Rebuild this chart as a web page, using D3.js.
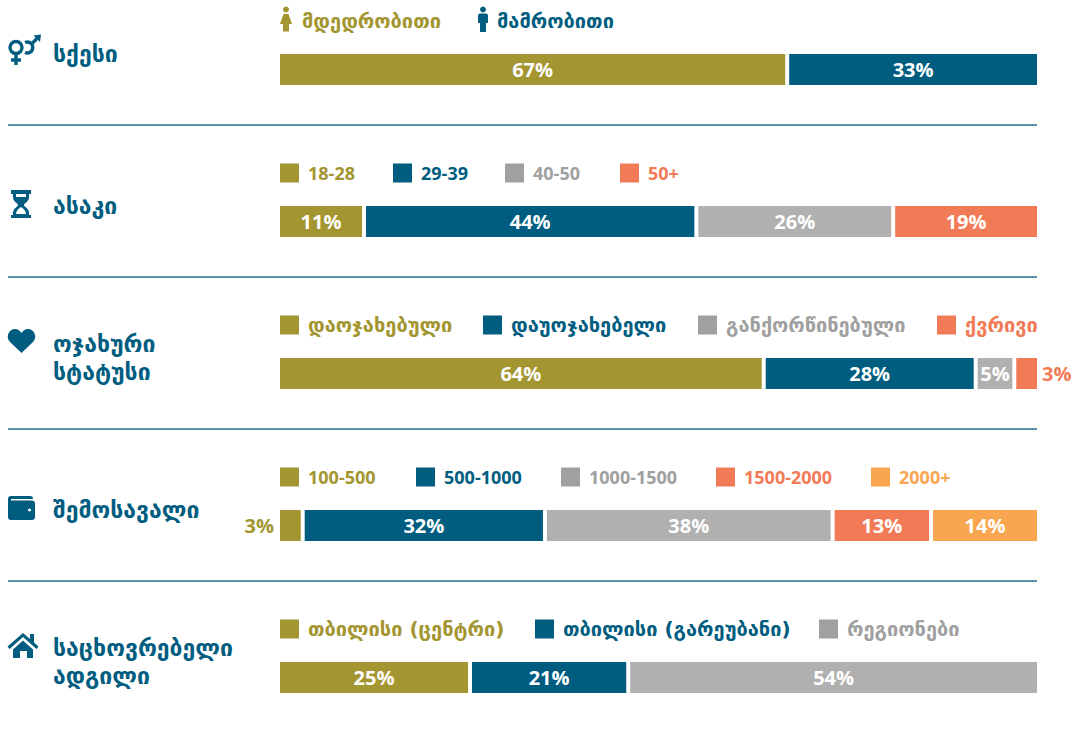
<!DOCTYPE html>
<html>
<head>
<meta charset="utf-8">
<script src="https://cdn.jsdelivr.net/npm/d3@7"></script>
<style>
  html, body { margin: 0; background: #fff; }
  text { font-family: "DejaVu Sans", "Noto Sans", sans-serif; font-weight: 700; }
  .num { font-family: "Open Sans", "Noto Sans", sans-serif; }
</style>
</head>
<body>
<svg id="chart"></svg>
<script>
// values
const titles = [["სქესი"], ["ასაკი"], ["ოჯახური", "სტატუსი"], ["შემოსავალი"], ["საცხოვრებელი", "ადგილი"]];
const genderLabels = ["მდედრობითი", "მამრობითი"];
const genderValues = [67, 33];
const ageLabels = ["18-28", "29-39", "40-50", "50+"];
const ageValues = [11.1, 43.9, 26, 19];
const maritalLabels = ["დაოჯახებული", "დაუოჯახებელი", "განქორწინებული", "ქვრივი"];
const maritalValues = [63.9, 28, 5.1, 3];
const incomeLabels = ["100-500", "500-1000", "1000-1500", "1500-2000", "2000+"];
const incomeValues = [3, 32, 38, 13, 14];
const homeLabels = ["თბილისი (ცენტრი)", "თბილისი (გარეუბანი)", "რეგიონები"];
const homeValues = [25.1, 20.9, 54];

const sectionLabels = [genderLabels, ageLabels, maritalLabels, incomeLabels, homeLabels];
const sectionValues = [genderValues, ageValues, maritalValues, incomeValues, homeValues];
const iconNames = ["gender", "hourglass", "heart", "wallet", "house"];

// legend x offsets, one list per section
const legendX = [[280, 478], [280, 393, 505, 620], [280, 483, 698, 937], [280, 416, 561, 716, 871], [280, 535, 819]];

const colors = ["#a39530", "#005d7f", "#b0b0b0", "#f27b57", "#f8a650"];
const legendColors = ["#a39530", "#005d7f", "#a0a0a0", "#f27b57", "#f8a650"];
const navy = "#005d7f";

const width = 1083, height = 732;
const barH = 31, gap = 2;

const svg = d3.select("#chart").attr("width", width).attr("height", height)
    .style("display", "block");

const x = d3.scaleLinear([0, 100], [280, 1037]);
const y = d3.scalePoint(d3.range(5), [54, 662]);

const section = svg.selectAll("g.section")
    .data(titles)
    .join("g")
    .attr("class", "section")
    .attr("transform", (d, i) => `translate(0, ${y(i)})`);

// rules between the sections
svg.selectAll("line.rule")
    .data(d3.range(4))
    .join("line")
    .attr("class", "rule")
    .attr("x1", 8).attr("x2", 1037)
    .attr("y1", d => y(d) + 71).attr("y2", d => y(d) + 71)
    .attr("stroke", "#1f6f8f").attr("stroke-width", 1.4);

// left titles
section.each(function(lines) {
    const n = lines.length;
    d3.select(this).selectAll("text.title")
        .data(lines)
        .join("text")
        .attr("class", "title")
        .attr("x", 53)
        .attr("y", (d, i) => (i - (n - 1) / 2) * 28)
        .attr("dy", "0.36em")
        .attr("fill", navy)
        .attr("font-size", 23)
        .text(d => d);
});

// bars
section.each(function(lines, s) {
    const vals = sectionValues[s];
    const ends = Array.from(d3.cumsum(vals));
    const g = d3.select(this);
    const segs = vals.map((v, i) => ({
        v, i,
        x0: x(i ? ends[i - 1] : 0) + (i ? gap : 0),
        x1: x(ends[i]) - (i < vals.length - 1 ? gap : 0)
    }));
    g.selectAll("rect.seg")
        .data(segs)
        .join("rect")
        .attr("class", "seg")
        .attr("x", d => d.x0)
        .attr("width", d => d.x1 - d.x0)
        .attr("y", 0)
        .attr("height", barH)
        .attr("fill", d => colors[d.i]);
    g.selectAll("text.val")
        .data(segs)
        .join("text")
        .attr("class", "val num")
        .attr("y", barH / 2 + 0.3)
        .attr("dy", "0.36em")
        .attr("font-size", 20)
        .attr("x", d => d.v > 3 ? (d.x0 + d.x1) / 2 : (d.i === 0 ? d.x0 - 6 : d.x1 + 5))
        .attr("text-anchor", d => d.v > 3 ? "middle" : (d.i === 0 ? "end" : "start"))
        .attr("fill", d => d.v > 3 ? "#fff" : colors[d.i])
        .text(d => Math.round(d.v) + "%");

    // legend
    const items = g.selectAll("g.item")
        .data(sectionLabels[s])
        .join("g")
        .attr("class", "item")
        .attr("transform", (d, i) => `translate(${legendX[s][i]}, -33)`);
    if (s === 0) {
        items.append("path")
            .attr("fill", (d, i) => legendColors[i])
            .attr("d", (d, i) => i === 0
                ? "M6-14.5a3 3 0 1 1-.01 0ZM3.5-7h5L12 3H9V10.5H3V3H0Z"
                : "M5-14.5a3 3 0 1 1-.01 0ZM2-7.5H8a2 2 0 0 1 2 2V2H8V11H2V2H0V-5.5a2 2 0 0 1 2-2Z");
    } else {
        items.append("rect")
            .attr("y", -9.5).attr("width", 19).attr("height", 19)
            .attr("fill", (d, i) => legendColors[i]);
    }
    items.append("text")
        .attr("class", d => /[0-9]/.test(d) ? "num" : null)
        .attr("x", (d, i) => s === 0 ? (i === 0 ? 22 : 19) : 28)
        .attr("y", d => /[0-9]/.test(d) ? 1 : 0)
        .attr("dy", "0.36em")
        .attr("font-size", d => /[0-9]/.test(d) ? 18 : 20)
        .attr("fill", (d, i) => legendColors[i])
        .text(d => d);
});

// icons, drawn in their own small box
const iconPaths = {
    hourglass: "M11-16H31V-12H29V-9C29-4 24-3 24-1S29 2 29 7V9H31V12H11V9H13V7C13 2 18 1 18-1S13-4 13-9V-12H11ZM16-12V-9H26V-12ZM21 1C18 3 16 5 16 8H26C26 5 24 3 21 1Z",
    heart: "M21.5-5L10-16C5-21 9-29 15-29C18-29 20-27 21.5-25C23-27 25-29 28-29C34-29 38-21 33-16Z",
    wallet: "M11-14H30A3 3 0 0 1 33-11H11V-9.5H32A3 3 0 0 1 35-6.5V7A3 3 0 0 1 32 10H11A3 3 0 0 1 8 7V-11A3 3 0 0 1 11-14ZM29.5-1.5a1.5 1.5 0 1 0 .01 0Z",
    house: "M23-29L30-23V-28H34V-19.5L38.5-15.5 36.5-13 23-25 9.5-13 7.5-15.5ZM23-21.5L33-12.5V-4H27V-11H20V-4H13V-12.5Z"
};
section.each(function(lines, s) {
    const name = iconNames[s];
    const g = d3.select(this).append("g").attr("class", "icon");
    if (name === "gender") {
        const stroke = { fill: "none", stroke: navy, "stroke-width": 3.4 };
        const c1 = g.append("circle").attr("cx", 16).attr("cy", -6.5).attr("r", 6);
        const p = g.append("path").attr("d", "M16-0.5V11M11 6H21M25-11.5A5.5 5.5 0 1 1 25-1.5M32-10.5L37-15.5");
        [c1, p].forEach(el => Object.entries(stroke).forEach(([k, v]) => el.attr(k, v)));
        g.append("path").attr("fill", navy).attr("d", "M33.5-18.5L41-19.5 40-12Z");
    } else {
        g.append("path")
            .attr("fill", navy)
            .attr("fill-rule", "evenodd")
            .attr("d", iconPaths[name]);
    }
});
</script>
</body>
</html>
